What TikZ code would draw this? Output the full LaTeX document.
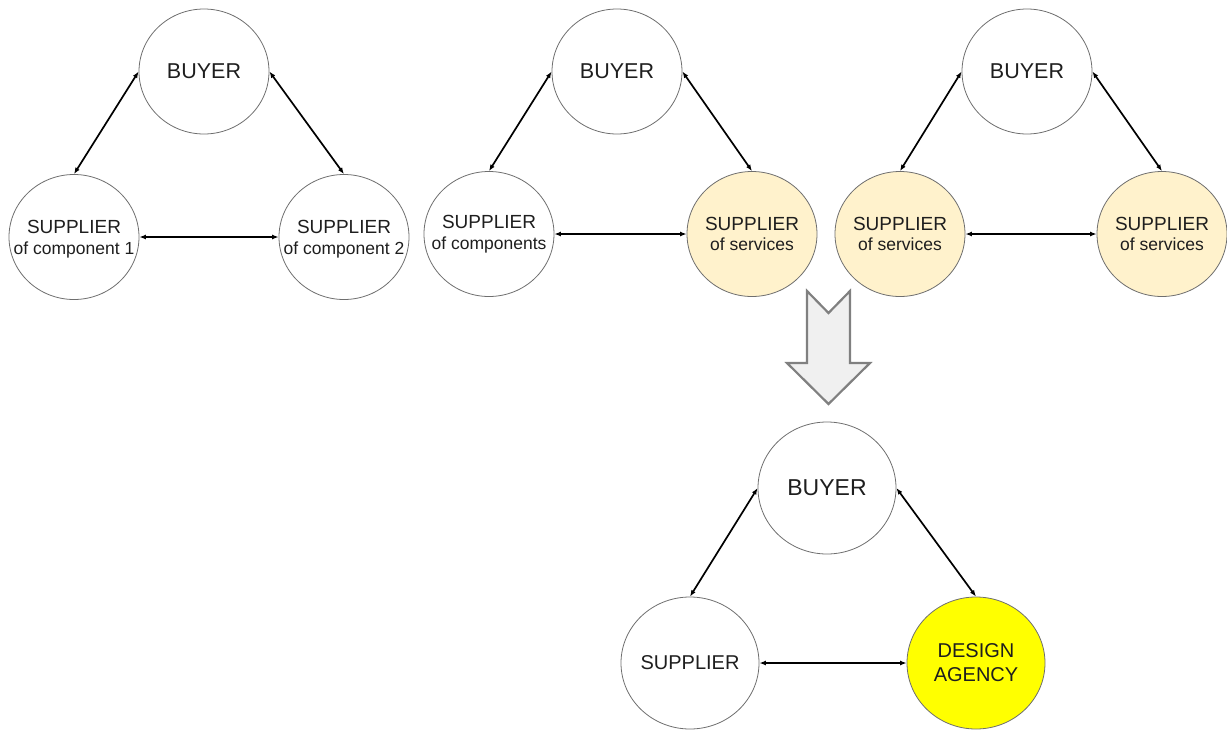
\documentclass[tikz,border=0pt]{standalone}
\usepackage{fontspec}
\setmainfont{Liberation Sans}
\usetikzlibrary{arrows.meta,shapes.geometric}
\definecolor{beige}{HTML}{FFF2CC}
\definecolor{agency}{HTML}{FFFF00}
\definecolor{rim}{HTML}{6E6E6E}
\definecolor{ink}{HTML}{1E1E1E}
\newcommand{\rolehead}[1]{{\fontsize{19}{20.5}\selectfont #1}}
\begin{document}
\begin{tikzpicture}[x=1pt,y=-1pt,
  party/.style={ellipse,draw=rim,line width=0.8pt,inner sep=0pt,
    minimum width=130pt,minimum height=125pt},
  big/.style={minimum width=138pt,minimum height=132pt},
  svc/.style={fill=beige},
  txt/.style={align=center,text=ink,inner sep=0pt,font=\fontsize{17.5}{20.5}\selectfont},
  btxt/.style={txt,font=\fontsize{21.5}{24}\selectfont},
  tip/.tip={Latex[length=6.5pt,width=5pt]},
  link/.style={tip-tip,line width=1.7pt,black},
  hlink/.style={tip-tip,line width=1.3pt,black},
  bigarrow/.style={fill=black!6,draw=black!50,line width=2.2pt,line join=miter}
]
\useasboundingbox (0,0) rectangle (1227,729);

% first triangle: two component suppliers
\node[party,label={[btxt]center:BUYER}] (b1) at (204,71.5) {};
\node[party,label={[txt,yshift=-2pt]center:\rolehead{SUPPLIER}\\of component 1}] (s1a) at (74,237) {};
\node[party,label={[txt,yshift=-2pt]center:\rolehead{SUPPLIER}\\of component 2}] (s1b) at (344,237) {};
\draw[link] (b1.west) -- (s1a.north);
\draw[link] (b1.east) -- (s1b.north);
\draw[hlink] (s1a.east) -- (s1b.west);

% second triangle: components and services
\node[party,label={[btxt]center:BUYER}] (b2) at (617,71.5) {};
\node[party,label={[txt]center:\rolehead{SUPPLIER}\\of components}] (s2a) at (489,234) {};
\node[party,svc,label={[txt]center:\rolehead{SUPPLIER}\\of services}] (s2b) at (752,234) {};
\draw[link] (b2.west) -- (s2a.north);
\draw[link] (b2.east) -- (s2b.north);
\draw[hlink] (s2a.east) -- (s2b.west);

% third triangle: two service suppliers
\node[party,label={[btxt]center:BUYER}] (b3) at (1027,71.5) {};
\node[party,svc,label={[txt]center:\rolehead{SUPPLIER}\\of services}] (s3a) at (900,234) {};
\node[party,svc,label={[txt]center:\rolehead{SUPPLIER}\\of services}] (s3b) at (1162,234) {};
\draw[link] (b3.west) -- (s3a.north);
\draw[link] (b3.east) -- (s3b.north);
\draw[hlink] (s3a.east) -- (s3b.west);

% transition arrow
\draw[bigarrow] (807,291) -- (828.5,313) -- (850,291) -- (850,363) -- (870,363)
  -- (828.5,404) -- (787,363) -- (807,363) -- cycle;

% resulting triangle with the design agency
\node[party,big,label={[btxt,font=\fontsize{23}{26}\selectfont]center:BUYER}] (b4) at (827,488) {};
\node[party,big,label={[txt,font=\fontsize{20}{24}\selectfont]center:SUPPLIER}] (s4a) at (690,663) {};
\node[party,big,fill=agency,label={[txt,font=\fontsize{20}{24}\selectfont]center:DESIGN\\AGENCY}] (s4b) at (976,663) {};
\draw[link] (b4.west) -- (s4a.north);
\draw[link] (b4.east) -- (s4b.north);
\draw[hlink] (s4a.east) -- (s4b.west);
\end{tikzpicture}
\end{document}
